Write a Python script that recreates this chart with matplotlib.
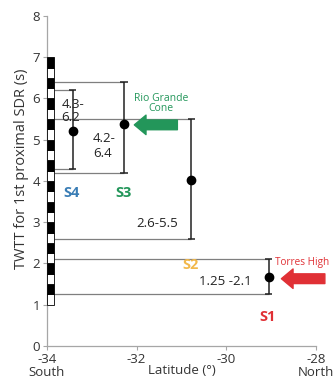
import matplotlib.pyplot as plt
from matplotlib.patches import Rectangle

plt.rcParams['font.family'] = ['Open Sans', 'DejaVu Sans']

# ---- data ----
segments = ["S4", "S3", "S2", "S1"]
seg_lat = [-33.42, -32.28, -30.78, -29.05]
twtt_low = [4.3, 4.2, 2.6, 1.25]
twtt_high = [6.2, 6.4, 5.5, 2.1]
twtt_mid = [5.22, 5.38, 4.03, 1.67]
range_text = ["4.3-\n6.2", "4.2-\n6.4", "2.6-5.5", "1.25 -2.1"]
seg_colors = ["#3a7db5", "#23965a", "#f2b84a", "#e03035"]

xticks = [-34, -32, -30, -28]
xticklabels = ["-34\nSouth", "-32", "-30", "-28\nNorth"]
yticks = [0, 1, 2, 3, 4, 5, 6, 7, 8]

fig = plt.figure(figsize=(3.35, 3.9), dpi=100)
ax = fig.add_axes([0.14, 0.113, 0.803, 0.846])

ax.set_xlim(-34, -28)
ax.set_ylim(0, 8)

# checkered bar on the left (0.25 s blocks from 1 to 7)
bar_w = 0.16
y = 1.0
k = 0
while y < 7.0:
    fc = "black" if k % 2 == 1 else "white"
    ax.add_patch(Rectangle((-34, y), bar_w, 0.25, facecolor=fc,
                           edgecolor="black", linewidth=0.6, clip_on=False, zorder=3))
    y += 0.25
    k += 1

# horizontal range lines from the bar to each segment
for lat, lo, hi in zip(seg_lat, twtt_low, twtt_high):
    ax.hlines([lo, hi], -34 + bar_w, lat, color="#7f7f7f", linewidth=0.9, zorder=1)

# error bars with midpoint dots
for lat, lo, hi, mid in zip(seg_lat, twtt_low, twtt_high, twtt_mid):
    ax.vlines(lat, lo, hi, color="#222222", linewidth=1.1, zorder=2)
    ax.hlines([lo, hi], lat - 0.08, lat + 0.08, color="#222222", linewidth=1.1, zorder=2)
    ax.plot(lat, mid, "o", color="black", markersize=6, zorder=4)

# range texts
ax.text(-33.67, 5.70, range_text[0], fontsize=9.5, ha="left", va="center",
        linespacing=1.05, color="#222222")
ax.text(-32.97, 4.85, range_text[1], fontsize=9.5, ha="left", va="center",
        linespacing=1.2, color="#222222")
ax.text(-31.54, 2.98, range_text[2], fontsize=9.5, ha="center", va="center", color="#222222")
ax.text(-30.03, 1.56, range_text[3], fontsize=9.5, ha="center", va="center", color="#222222")

# segment labels
seg_pos = [(-33.46, 3.72), (-32.3, 3.72), (-30.8, 1.97), (-29.07, 0.70)]
for name, (px, py), c in zip(segments, seg_pos, seg_colors):
    ax.text(px, py, name, fontsize=10.5, fontweight="bold", color=c,
            ha="center", va="center")

# arrows and place names
ax.annotate("", xy=(-32.05, 5.36), xytext=(-31.09, 5.36),
            arrowprops=dict(arrowstyle="simple,head_length=0.6,head_width=1.0,tail_width=0.5",
                            mutation_scale=14, color="#23965a", shrinkA=0, shrinkB=0))
ax.text(-31.45, 5.87, "Rio Grande\nCone", fontsize=7.5, color="#23965a",
        ha="center", va="center", linespacing=0.9)

ax.annotate("", xy=(-28.77, 1.63), xytext=(-27.8, 1.63), annotation_clip=False,
            arrowprops=dict(arrowstyle="simple,head_length=0.6,head_width=1.0,tail_width=0.5",
                            mutation_scale=14, color="#e03035", shrinkA=0, shrinkB=0,
                            clip_on=False))
ax.text(-28.92, 2.02, "Torres High", fontsize=7.2, color="#e03035",
        ha="left", va="center", clip_on=False)

# axes styling
for s in ["top", "right"]:
    ax.spines[s].set_visible(False)
for s in ["left", "bottom"]:
    ax.spines[s].set_color("#a6a6a6")
    ax.spines[s].set_linewidth(0.9)

ax.set_xticks(xticks)
ax.set_xticklabels(xticklabels, fontsize=9.5, color="#333333", linespacing=1.0)
ax.set_yticks(yticks)
ax.set_yticklabels([str(v) for v in yticks], fontsize=9.5, color="#333333")
ax.tick_params(axis="both", length=3, color="#a6a6a6", pad=2)

ax.set_xlabel("Latitude (°)", fontsize=9.5, color="#333333", labelpad=-11)
ax.set_ylabel("TWTT for 1st proximal SDR (s)", fontsize=10.5, color="#333333")
ax.yaxis.set_label_coords(-0.065, 0.536)

fig.savefig("out.png", dpi=100)
